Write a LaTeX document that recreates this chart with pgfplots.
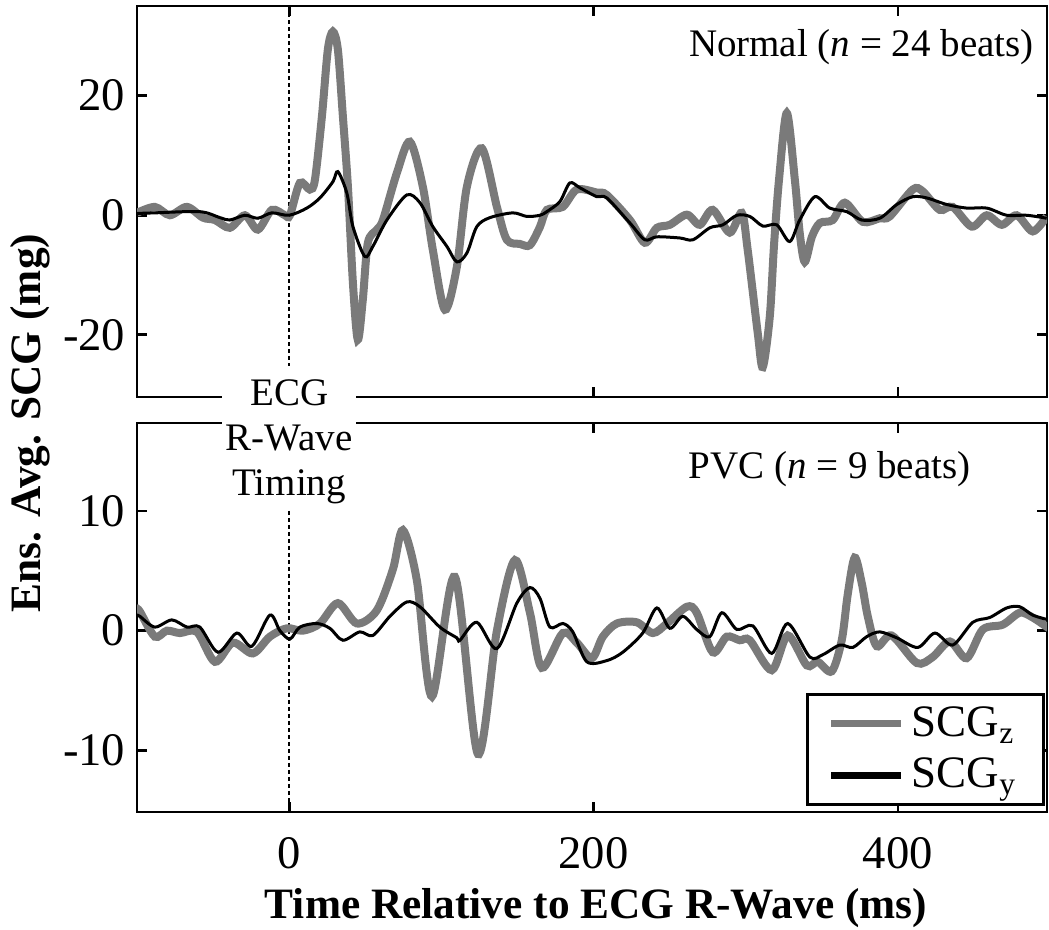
\documentclass[border=0pt]{standalone}
\usepackage{fontspec}
\setmainfont{Liberation Serif}
\usepackage{pgfplots}
\pgfplotsset{compat=1.18}
\definecolor{scgz}{RGB}{122,122,122}

\pgfplotsset{
  scgpanel/.style={
    scale only axis, width=273pt, xmin=-100, xmax=498,
    xtick={0,200,400}, tick align=inside, major tick length=3pt,
    ticklabel style={font=\fontsize{14}{16}\selectfont},
    axis line style={line width=0.8pt}, tick style={line width=0.8pt, black},
    clip=true,
  },
  gz/.style={color=scgz, line width=2.4pt, smooth, tension=0.5},
  gy/.style={color=black, line width=0.9pt, smooth, tension=0.5},
  rwave/.style={black, line width=0.5pt, dash pattern=on 1.2pt off 0.9pt},
}

\begin{document}
\begin{tikzpicture}
\path[use as bounding box] (-41.1pt,1.8pt) rectangle (273.6pt,-276.9pt);

% Normal beats
\begin{axis}[scgpanel, name=top, at={(0,0)}, anchor=north west, height=117.3pt,
  ymin=-30.4, ymax=35, ytick={-20,0,20}, yticklabels={-20,0,20}, xticklabels={}]
\addplot[rwave] coordinates {(0,35) (0,-25.2)};
\addplot[gz] coordinates {
(-100,0.4) (-88.3,1.4) (-78.4,0) (-67.2,1.4) (-56.7,-0.4) (-48.8,-0.8) (-39.0,-2.1)
(-29.1,0) (-20.6,-2.4) (-11.4,0.9) (-2.8,0) (0.5,0) (7.0,5.4) (13.6,4.3) (16.9,5.9)
(21.5,16.5) (25.4,27.7) (28.7,30.7) (32.0,27.7) (35.3,16.5) (38.6,4.8) (41.9,-11.4)
(45.1,-20.8) (48.4,-14.1) (51.7,-4.6) (57.6,-2.4) (61.6,-0.8) (70.8,7.1) (79.3,12.3)
(87.8,4.8) (94.4,-5.8) (102.3,-15.8) (110.2,-8.6) (116.8,4.8) (126.6,11.2) (136.5,1.4)
(143.0,-4.1) (151.6,-4.8) (158.2,-5.0) (164.7,-2.0) (169.3,0.9) (179.8,1.4) (189.0,4.3)
(202.2,3.8) (208.7,3.4) (223.9,-0.8) (233.7,-4.6) (241.6,-2.1) (250.1,-1.6) (261.3,0.1)
(269.8,-1.6) (278.3,0.9) (289.5,-2.9) (297.4,0.4) (301.3,-5.8) (307.9,-19.7) (311.2,-25.4)
(315.8,-17) (318.6,-5) (321.9,6) (327.0,17.1) (332.3,5.9) (335.5,-3) (338.8,-7.8)
(343.5,-3.6) (348.7,-1.3) (357.2,-0.8) (365.1,2.1) (376.9,-1.1) (388.1,-0.5) (394.6,-0.2)
(409.7,4.3) (416.3,4.0) (427.5,0.9) (436.0,1.4) (448.5,-1.9) (458.4,0) (468.3,-1.6)
(478.1,0) (488.6,-2.7) (497.8,-0.2)};
\addplot[gy] coordinates {
(-100,0.3) (-88.3,0.4) (-58.7,0.6) (-45.5,-0.4) (-39.0,-0.8) (-29.1,0) (-20.6,-0.5)
(-11.4,0.4) (0,0) (11.6,1.2) (20.2,2.9) (28.7,5.6) (32.0,7.3) (37.9,3.7) (41.9,-1.9)
(49.7,-6.9) (55.0,-5.2) (64.2,-0.8) (77.3,3.4) (85.9,2.1) (94.4,-1.9) (103.6,-5.2)
(110.2,-7.8) (116.8,-6.3) (123.3,-1.9) (131.9,-0.4) (147.0,0.4) (156.2,-0.2) (164.8,0)
(169.3,0.6) (177.9,2.3) (184.4,5.4) (191.0,4.6) (202.2,3.1) (208.7,2.9) (223.9,-1.3)
(233.7,-4.1) (241.6,-3.6) (256.7,-3.8) (265.3,-4.1) (276.4,-2.1) (285.0,-1.6) (294.2,0)
(302.7,-0.2) (311.2,-1.8) (320.4,-1.6) (328.9,-4.4) (335.5,-0.8) (345.4,3.1) (355.2,1.2)
(366.4,0.6) (376.2,-0.8) (388.1,-0.5) (399.3,1.8) (409.7,3.1) (418.9,2.9) (432.1,1.8)
(445.2,1.2) (458.4,1.2) (471.5,0) (484.6,0) (497.8,-0.5)};
\node[font=\fontsize{11.7}{14}\selectfont] at (axis cs:376,28.2) {Normal (\textit{n} = 24 beats)};
\end{axis}

% PVC beats
\begin{axis}[scgpanel, name=bot, at={(top.south west)}, anchor=north west, yshift=-7.8pt,
  height=116.7pt, ymin=-15.15, ymax=17.35, ytick={-10,0,10}, yticklabels={-10,0,10},
  xticklabels={0,200,400}, xticklabel style={yshift=-4pt},
  legend style={at={(1,0)}, anchor=south east, xshift=-0.6pt, yshift=1.8pt,
    draw=black, line width=1pt, font=\fontsize{13.5}{15}\selectfont,
    inner xsep=6pt, inner ysep=1.5pt, row sep=1pt, cells={anchor=west}},
  legend image code/.code={\draw[#1] (0pt,0pt) -- (21pt,0pt);}]
\addplot[rwave, forget plot] coordinates {(0,10) (0,-15.15)};
\addplot[gz, forget plot] coordinates {
(-100,1.8) (-98.1,1.6) (-88.3,-0.5) (-80.4,0) (-71.8,-0.2) (-60.6,-0.1) (-48.8,-2.6)
(-37.0,-1.0) (-23.9,-1.9) (-12.7,-0.5) (-1.5,0.2) (9.0,0) (20.2,0.6) (32.0,2.3)
(44.5,0.6) (57.6,1.7) (68.1,5.1) (74.7,8.4) (83.9,4.2) (93.8,-5.5) (108.9,4.5)
(124.0,-10.3) (136.5,0) (148.3,5.9) (158.2,1.5) (166.0,-3.1) (179.8,-0.2) (189.0,-1.0)
(198.9,-2.3) (206.1,-0.5) (215.3,0.6) (228.4,0.7) (239.0,-0.2) (248.2,0.6) (261.3,2.0)
(267.8,1.5) (278.3,-1.8) (287.5,-0.5) (296.1,-0.8) (302.7,-0.8) (317.1,-3.3) (327.6,-0.4)
(340.1,-2.9) (347.3,-2.6) (356.5,-3.4) (363.1,-0.8) (367.0,3.0) (371.6,6.1) (376.2,4.0)
(380.2,1.2) (386.1,-1.3) (395.9,-0.4) (412.4,-2.7) (422.9,-2.2) (434.1,-0.9) (445.2,-2.3)
(455.8,0.1) (468.9,0.5) (480.1,1.5) (488.6,1.1) (499.1,0.2)};
\addplot[gy, forget plot] coordinates {
(-100,1.3) (-98.1,1.2) (-88.3,0.3) (-77.1,0.9) (-67.2,0.3) (-58.7,0.3) (-46.8,-1.8)
(-34.4,-0.2) (-24.5,-1.3) (-12.7,1.3) (-6.1,0) (0.5,-0.7) (7.0,0.3) (18.2,0.6) (26.7,0.2)
(35.3,-0.8) (46.4,-0.1) (55.0,-0.4) (66.2,1.2) (77.3,2.4) (85.9,2.0) (99.0,0.3)
(110.2,-0.6) (112.2,-0.8) (123.3,0.7) (136.5,-1.5) (149.6,2.3) (158.2,3.6) (164.8,2.7)
(171.3,0.3) (179.8,0.6) (186.4,-0.1) (195.6,-2.6) (208.7,-2.5) (219.2,-1.8) (232.3,-0.2)
(241.6,1.9) (250.1,0.2) (258.7,1.2) (267.8,0.1) (276.4,-0.5) (284.3,1.5) (294.2,0.1)
(304.7,0.4) (317.1,-1.9) (327.6,0.6) (342.1,-2.2) (350.7,-2.0) (361.8,-1.2) (370.4,-1.4)
(379.5,-0.5) (388.1,-0.1) (399.3,-0.6) (413.1,-1.4) (424.3,-0.2) (436.0,-1.2) (449.2,0.7)
(460.4,1.1) (471.5,1.9) (480.1,2.0) (488.6,1.3) (499.1,0.9)};
\addlegendimage{color=scgz, line width=2.2pt}
\addlegendentry{SCG\textsubscript{z}}
\addlegendimage{color=black, line width=2.2pt}
\addlegendentry{SCG\textsubscript{y}}
\node[font=\fontsize{11.7}{14}\selectfont] at (axis cs:355,13.5) {PVC (\textit{n} = 9 beats)};
\coordinate (ecg) at (axis cs:0,15.8);
\end{axis}

\node[fill=white, inner sep=1pt, align=center, font=\fontsize{11.7}{13.5}\selectfont]
  at (ecg) {ECG\\R-Wave\\Timing};
\node[font=\bfseries\fontsize{13}{15}\selectfont, rotate=90] at (-32.1pt,-125.1pt)
  {Ens. Avg. SCG (mg)};
\node[font=\bfseries\fontsize{13}{15}\selectfont] at (137.7pt,-270.6pt)
  {Time Relative to ECG R-Wave (ms)};
\end{tikzpicture}
\end{document}
